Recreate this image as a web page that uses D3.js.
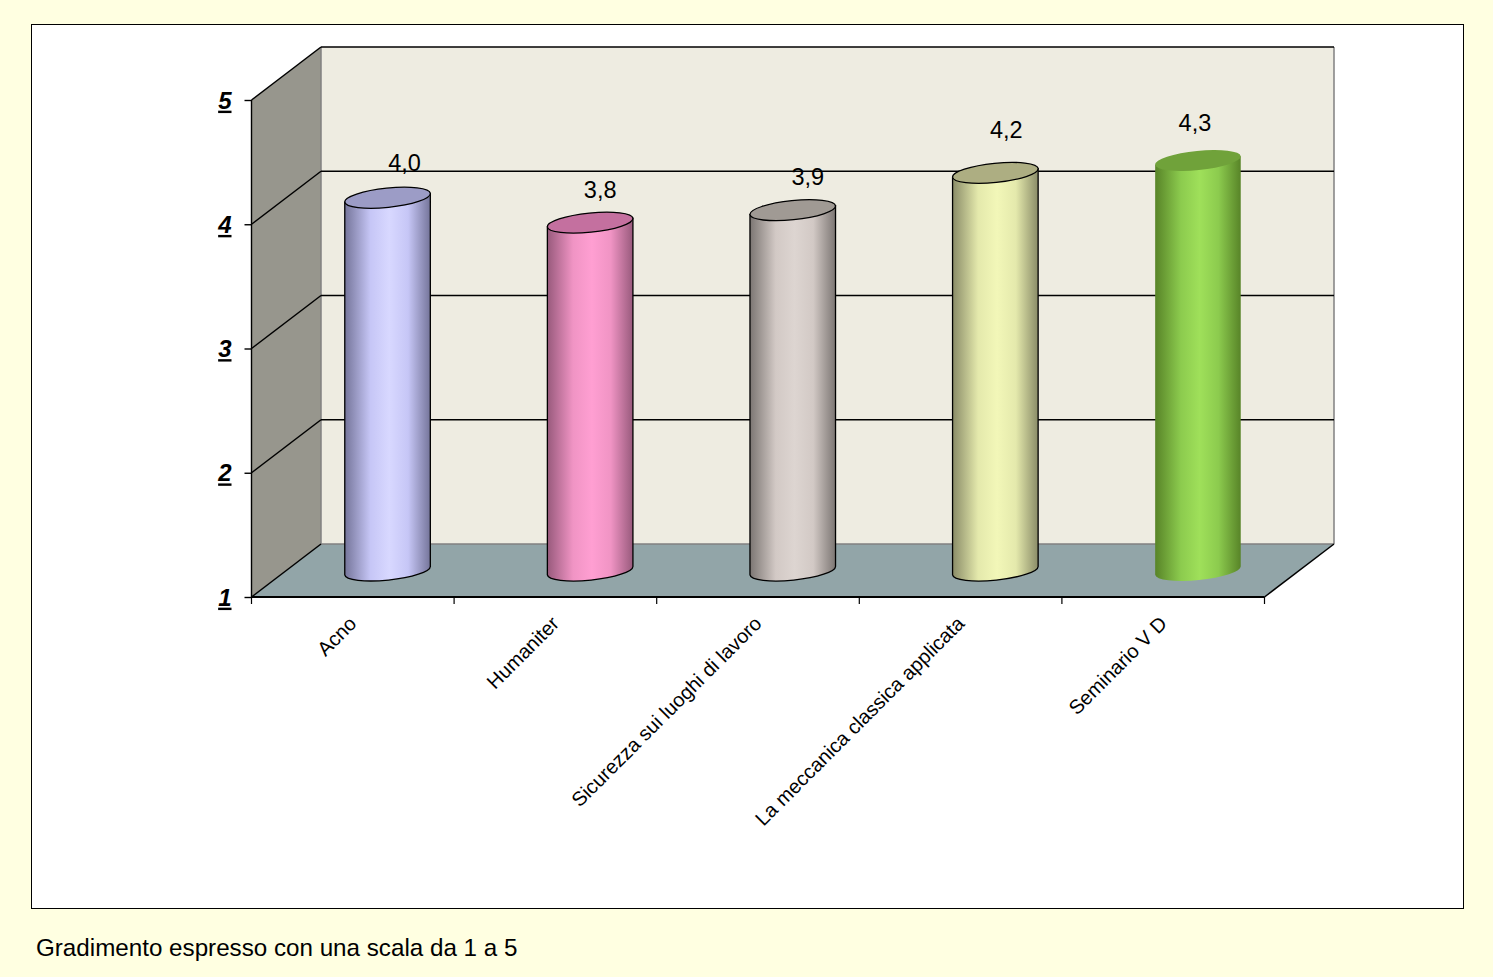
<!DOCTYPE html>
<html><head><meta charset="utf-8">
<script src="https://cdn.jsdelivr.net/npm/d3@7"></script>
<style>html,body{margin:0;padding:0;background:#FFFFE1;overflow:hidden}svg{display:block}text{font-family:"Liberation Sans",Arial,sans-serif;fill:#000}</style>
</head><body><svg id="c" width="1493" height="977"></svg>
<script>
const categories = ["Acno","Humaniter","Sicurezza sui luoghi di lavoro","La meccanica classica applicata","Seminario V D"];
const values = [4.0,3.8,3.9,4.2,4.3];
const valueLabels = ["4,0","3,8","3,9","4,2","4,3"];
const yTicks = [1,2,3,4,5];
const footer = "Gradimento espresso con una scala da 1 a 5";
const midColors = ["#D8D8FF","#FF9FD2","#DDD5D1","#F2F7B8","#9FE05A"];
const baseColors = ["#C6C6F6","#F094C4","#D2C9C5","#E4E9AC","#8CCB4E"];
const edgeColors = ["#75759A","#985A7C","#7C7673","#8A8C68","#588428"];
const topColors = ["#9C9CC6","#C4709F","#A09A94","#ADAE82","#70A23A"];
const outlined = [true,true,true,true,false];
const labelDx = [17,10,15,11,-3];
const labelDy = [-35,-33,-33,-43,-38];

const svg = d3.select("#c");
const X0=251.5, X1=1264.5, dX=69.5, dY=-53;
const y = d3.scaleLinear().domain([1,5]).range([597,100]);
const x = d3.scaleBand().domain(categories).range([X0,X1]);
svg.append("rect").attr("x",31.5).attr("y",24.5).attr("width",1432).attr("height",884).attr("fill","#fff").attr("stroke","#000");

const poly=(pts,fill)=>svg.append("polygon").attr("points",pts.map(p=>p.join(",")).join(" ")).attr("fill",fill);
const line=(a,b,c,w=1.5)=>svg.append("line").attr("x1",a[0]).attr("y1",a[1]).attr("x2",b[0]).attr("y2",b[1]).attr("stroke",c).attr("stroke-width",w);
const yB=y(1), yT=y(5);
poly([[X0+dX,yT+dY],[X1+dX,yT+dY],[X1+dX,yB+dY],[X0+dX,yB+dY]],"#EEECE1");
poly([[X0,yT],[X0+dX,yT+dY],[X0+dX,yB+dY],[X0,yB]],"#97968D");
poly([[X0,yB],[X0+dX,yB+dY],[X1+dX,yB+dY],[X1,yB]],"#92A5A8");
line([X0+dX,yT+dY],[X0+dX,yB+dY],"#808080",1.5);
line([X0+dX,yB+dY],[X1+dX,yB+dY],"#808080",1.5);
line([X1+dX,yT+dY],[X1+dX,yB+dY],"#808080",1.5);

yTicks.forEach(t=>{
  const v=y(t);
  line([X0,v],[X0+dX,v+dY],"#000");
  if(t>1) line([X0+dX,v+dY],[X1+dX,v+dY],"#000");
});
line([X1,yB],[X1+dX,yB+dY],"#000");

// axes
const yAxis = d3.axisLeft(y).tickValues(yTicks).tickSize(7).tickFormat(d3.format("d"));
const gy = svg.append("g").attr("transform",`translate(${X0},0)`).call(yAxis);
gy.selectAll("path,line").attr("stroke","#000").attr("stroke-width",1.4);
gy.select(".domain").attr("d",`M0,${yB}V${yT}`);
gy.selectAll("text").attr("x",-20).attr("dy","0.34em")
  .style("font-size","24px").style("font-weight","bold").style("font-style","italic")
  .style("text-decoration","underline").attr("text-anchor","end").attr("fill","#000");

const gx = svg.append("g").attr("transform",`translate(0,${yB})`);
gx.append("line").attr("x1",X0).attr("x2",X1).attr("stroke","#000").attr("stroke-width",1.8);
[...categories.map(c=>x(c)),X1].forEach(p=>gx.append("line").attr("x1",p).attr("x2",p).attr("y1",0).attr("y2",7).attr("stroke","#000").attr("stroke-width",1.2));
categories.forEach(c=>{
  const px=x(c)+x.bandwidth()/2;
  gx.append("text").attr("transform",`translate(${px-5},${18}) rotate(-45)`).attr("text-anchor","end")
    .attr("dy","0.7em").style("font-size","20px").text(c);
});

// cylinders
const defs=svg.append("defs");
const rx=43, ry=9.6, tilt=-5.8;
const hw=rx*Math.cos(tilt*Math.PI/180), hh=rx*Math.sin(-tilt*Math.PI/180);
categories.forEach((c,i)=>{
  const cx=x(c)+x.bandwidth()/2+dX/2, by=y(1)+dY/2, ty=y(values[i])+dY/2;
  const g=defs.append("linearGradient").attr("id","g"+i);
  [[0,edgeColors[i]],[.3,baseColors[i]],[.52,midColors[i]],[.74,baseColors[i]],[1,edgeColors[i]]]
    .forEach(s=>g.append("stop").attr("offset",s[0]).attr("stop-color",s[1]));
  const st=outlined[i]?"#000":"none";
  svg.append("path")
    .attr("d",`M${cx-hw},${ty+hh}L${cx-hw},${by+hh}A${rx},${ry} ${tilt} 0 0 ${cx+hw},${by-hh}L${cx+hw},${ty-hh}Z`)
    .attr("fill",`url(#g${i})`).attr("stroke",st).attr("stroke-width",1.3);
  svg.append("ellipse").attr("cx",cx).attr("cy",ty).attr("rx",rx).attr("ry",ry)
    .attr("transform",`rotate(${tilt} ${cx} ${ty})`).attr("fill",topColors[i]).attr("stroke",st).attr("stroke-width",1.3);
  svg.append("text").attr("x",cx+labelDx[i]).attr("y",ty+labelDy[i]).attr("text-anchor","middle")
    .attr("dy","0.35em").style("font-size","23.5px").text(valueLabels[i]);
});

svg.append("text").attr("x",36).attr("y",956).style("font-size","24.2px").text(footer);
</script></body></html>
